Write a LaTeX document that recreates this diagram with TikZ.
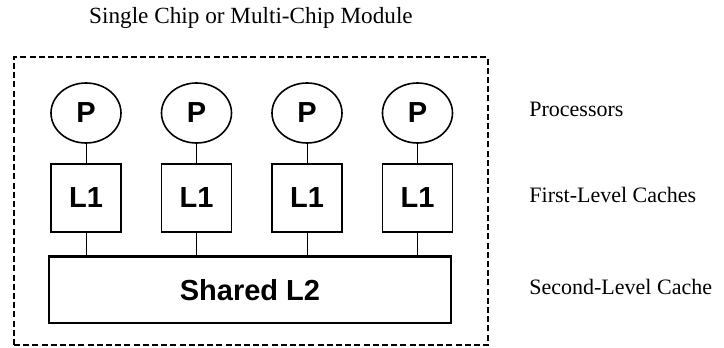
\documentclass[tikz,border=0pt]{standalone}
\usepackage{fontspec}
\setmainfont{Liberation Serif}
\setsansfont{Liberation Sans}
\usetikzlibrary{shapes.geometric,positioning}

\begin{document}
\begin{tikzpicture}[x=0.5pt,y=-0.5pt,%
    proc/.style={draw,ellipse,line width=0.8pt,inner sep=0pt,%
      minimum width=35pt,minimum height=30pt,%
      font=\sffamily\bfseries\fontsize{14.5}{16}\selectfont},%
    cache/.style={draw,rectangle,line width=0.9pt,inner sep=0pt,%
      minimum width=35pt,minimum height=34pt,%
      font=\sffamily\bfseries\fontsize{14.5}{16}\selectfont},%
    level/.style={anchor=west,inner sep=0pt,font=\fontsize{11}{13}\selectfont},%
    wire/.style={line width=0.5pt}%
  ]
  \useasboundingbox (0,0) rectangle (724,348);

  %
  % Positions
  %
  \pgfmathsetmacro{\yp}{113};%
  \pgfmathsetmacro{\yc}{198};%

  % Module
  \node[draw,line width=0.9pt,dash pattern=on 3pt off 1.6pt,inner sep=0pt,%
    minimum width=237pt,minimum height=144pt] (module) at (251,201) {};
  \node[font=\fontsize{11.6}{13}\selectfont] (title) at (251,18)
    {Single Chip or Multi-Chip Module};

  % Shared L2
  \node[cache,minimum width=201pt,minimum height=33pt] (l2) at (250,290) {Shared L2};
  \draw[line width=1.3pt] (l2.north west) -- (l2.north east);

  % Processors and L1
  \foreach \i/\x in {1/86,2/196.5,3/307,4/417.5}{
    \node[proc] (p\i) at (\x,\yp) {P};
    \node[cache] (c\i) at (\x,\yc) {L1};
    \draw[wire] (p\i) -- (c\i);
    \draw[wire] (c\i) -- (c\i.south |- l2.north);
  }

  % Levels
  \node[level] (lproc) at (529,109) {Processors};
  \node[level] (lfirst) at (529,195) {First-Level Caches};
  \node[level] (lsecond) at (529,287) {Second-Level Cache};

\end{tikzpicture}
\end{document}
